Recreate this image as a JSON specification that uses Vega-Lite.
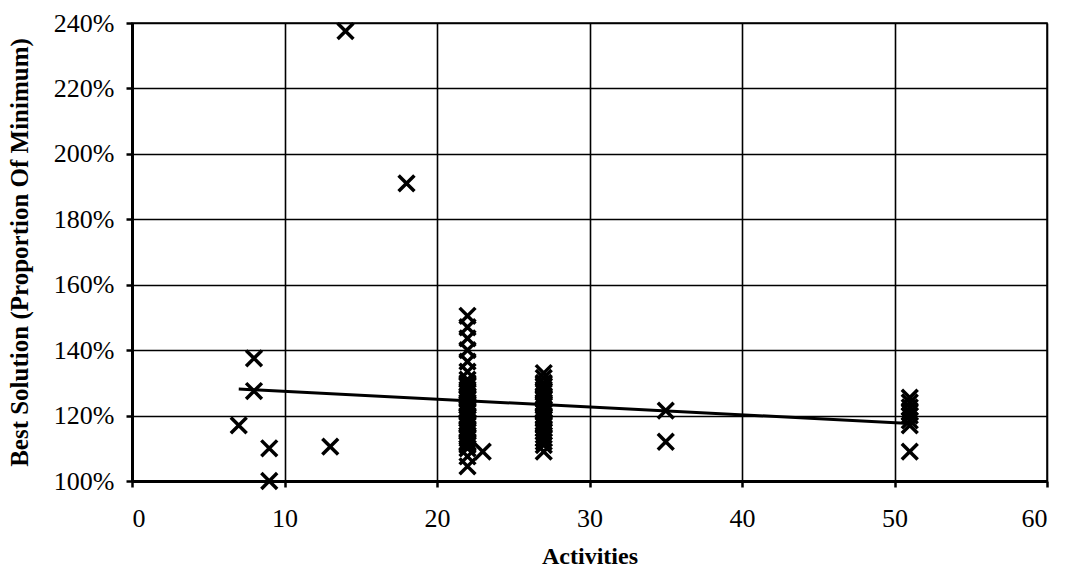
{
  "$schema": "https://vega.github.io/schema/vega-lite/v6.json",
  "autosize": {"type": "none"},
  "width": 915,
  "height": 458,
  "padding": {"left": 132, "top": 23, "right": 22, "bottom": 101},
  "background": "white",
  "config": {
    "view": {"stroke": "black", "strokeWidth": 1.5},
    "font": "Liberation Serif",
    "axis": {
      "labelFont": "Liberation Serif",
      "labelFontSize": 26,
      "labelColor": "black",
      "titleFont": "Liberation Serif",
      "titleFontSize": 24,
      "titleFontWeight": "bold",
      "titleColor": "black",
      "domainColor": "black",
      "domainWidth": 3,
      "gridColor": "black",
      "gridOpacity": 1,
      "gridWidth": 1.6,
      "tickColor": "black",
      "tickWidth": 2.5,
      "tickSize": 6
    }
  },
  "datasets": {
    "points": [
      {"activities": 7, "best": 1.17},
      {"activities": 8, "best": 1.375},
      {"activities": 8, "best": 1.275},
      {"activities": 9, "best": 1.10},
      {"activities": 9, "best": 1.00},
      {"activities": 13, "best": 1.105},
      {"activities": 14, "best": 2.375},
      {"activities": 18, "best": 1.91},
      {"activities": 22, "best": 1.505},
      {"activities": 22, "best": 1.47},
      {"activities": 22, "best": 1.436},
      {"activities": 22, "best": 1.40},
      {"activities": 22, "best": 1.365},
      {"activities": 22, "best": 1.334},
      {"activities": 22, "best": 1.31},
      {"activities": 22, "best": 1.30},
      {"activities": 22, "best": 1.295},
      {"activities": 22, "best": 1.29},
      {"activities": 22, "best": 1.28},
      {"activities": 22, "best": 1.275},
      {"activities": 22, "best": 1.27},
      {"activities": 22, "best": 1.26},
      {"activities": 22, "best": 1.255},
      {"activities": 22, "best": 1.25},
      {"activities": 22, "best": 1.24},
      {"activities": 22, "best": 1.235},
      {"activities": 22, "best": 1.23},
      {"activities": 22, "best": 1.22},
      {"activities": 22, "best": 1.215},
      {"activities": 22, "best": 1.21},
      {"activities": 22, "best": 1.20},
      {"activities": 22, "best": 1.195},
      {"activities": 22, "best": 1.19},
      {"activities": 22, "best": 1.18},
      {"activities": 22, "best": 1.175},
      {"activities": 22, "best": 1.17},
      {"activities": 22, "best": 1.16},
      {"activities": 22, "best": 1.155},
      {"activities": 22, "best": 1.15},
      {"activities": 22, "best": 1.14},
      {"activities": 22, "best": 1.135},
      {"activities": 22, "best": 1.13},
      {"activities": 22, "best": 1.12},
      {"activities": 22, "best": 1.115},
      {"activities": 22, "best": 1.11},
      {"activities": 22, "best": 1.10},
      {"activities": 22, "best": 1.075},
      {"activities": 22, "best": 1.045},
      {"activities": 23, "best": 1.09},
      {"activities": 27, "best": 1.33},
      {"activities": 27, "best": 1.315},
      {"activities": 27, "best": 1.30},
      {"activities": 27, "best": 1.295},
      {"activities": 27, "best": 1.29},
      {"activities": 27, "best": 1.28},
      {"activities": 27, "best": 1.275},
      {"activities": 27, "best": 1.27},
      {"activities": 27, "best": 1.26},
      {"activities": 27, "best": 1.255},
      {"activities": 27, "best": 1.25},
      {"activities": 27, "best": 1.24},
      {"activities": 27, "best": 1.235},
      {"activities": 27, "best": 1.23},
      {"activities": 27, "best": 1.22},
      {"activities": 27, "best": 1.215},
      {"activities": 27, "best": 1.21},
      {"activities": 27, "best": 1.20},
      {"activities": 27, "best": 1.195},
      {"activities": 27, "best": 1.19},
      {"activities": 27, "best": 1.18},
      {"activities": 27, "best": 1.175},
      {"activities": 27, "best": 1.17},
      {"activities": 27, "best": 1.16},
      {"activities": 27, "best": 1.15},
      {"activities": 27, "best": 1.14},
      {"activities": 27, "best": 1.13},
      {"activities": 27, "best": 1.12},
      {"activities": 27, "best": 1.11},
      {"activities": 27, "best": 1.09},
      {"activities": 35, "best": 1.215},
      {"activities": 35, "best": 1.12},
      {"activities": 51, "best": 1.255},
      {"activities": 51, "best": 1.24},
      {"activities": 51, "best": 1.225},
      {"activities": 51, "best": 1.21},
      {"activities": 51, "best": 1.20},
      {"activities": 51, "best": 1.185},
      {"activities": 51, "best": 1.17},
      {"activities": 51, "best": 1.09}
    ],
    "trend": [
      {"activities": 7, "best": 1.281},
      {"activities": 51, "best": 1.176}
    ]
  },
  "layer": [
    {
      "data": {"name": "points"},
      "mark": {
        "type": "point",
        "shape": "M-1,-1L1,1M-1,1L1,-1",
        "filled": false,
        "stroke": "black",
        "strokeWidth": 3.5,
        "size": 250,
        "opacity": 1
      },
      "encoding": {
        "x": {
          "field": "activities",
          "type": "quantitative",
          "scale": {"domain": [0, 60], "nice": false, "zero": false},
          "axis": {
            "values": [0, 10, 20, 30, 40, 50, 60],
            "labelPadding": 18,
            "title": "Activities",
            "titleY": 75,
            "titleBaseline": "middle"
          }
        },
        "y": {
          "field": "best",
          "type": "quantitative",
          "scale": {"domain": [1, 2.4], "nice": false, "zero": false},
          "axis": {
            "values": [1, 1.2, 1.4, 1.6, 1.8, 2.0, 2.2, 2.4],
            "format": ".0%",
            "labelPadding": 12,
            "title": "Best Solution (Proportion Of Minimum)",
            "titleFontSize": 25,
            "titleX": -113,
            "titleY": 229,
            "titleAngle": -90,
            "titleBaseline": "middle",
            "titleAlign": "center"
          }
        }
      }
    },
    {
      "data": {"name": "trend"},
      "mark": {"type": "line", "color": "black", "strokeWidth": 3},
      "encoding": {
        "x": {"field": "activities", "type": "quantitative"},
        "y": {"field": "best", "type": "quantitative"}
      }
    }
  ]
}
